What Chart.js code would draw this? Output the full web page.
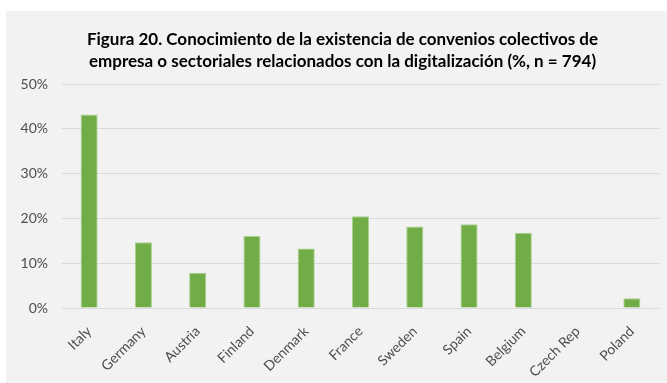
<!DOCTYPE html>
<html>
<head>
<meta charset="utf-8">
<script src="https://cdn.jsdelivr.net/npm/chart.js@4"></script>
<style>
  html, body { margin: 0; padding: 0; background: #fff; }
  #panel { position: absolute; left: 6px; top: 11px; width: 661px; height: 372px; background: #f2f2f2; }
</style>
</head>
<body>
<div id="panel"><canvas id="chart" width="661" height="372"></canvas></div>
<script>
  // Países y porcentaje que conoce convenios ligados a la digitalización
  const paises = ['Italy', 'Germany', 'Austria', 'Finland', 'Denmark', 'France', 'Sweden', 'Spain', 'Belgium', 'Czech Rep', 'Poland'];
  const porcentajes = [43.2, 14.7, 7.9, 16.1, 13.3, 20.5, 18.2, 18.7, 16.8, 0, 2.2];
  const ticksY = [0, 10, 20, 30, 40, 50];

  const fuente = 'Lato, "Open Sans", sans-serif';

  // desplaza el título un poco a la derecha, centrado sobre el área de barras
  const moverTitulo = {
    id: 'moverTitulo',
    afterLayout(chart) {
      const t = chart.titleBlock;
      if (t) { t.left += 10; t.right += 10; }
    }
  };

  new Chart(document.getElementById('chart'), {
    type: 'bar',
    data: {
      labels: paises,
      datasets: [{
        data: porcentajes,
        backgroundColor: '#70ad47',
        borderColor: '#a9d18e',
        borderWidth: 1,
        categoryPercentage: 1,
        barPercentage: 0.315
      }]
    },
    options: {
      responsive: false,
      animation: false,
      layout: { padding: { left: 0, right: 8, top: 0, bottom: 0 } },
      plugins: {
        legend: { display: false },
        tooltip: { enabled: false },
        title: {
          display: true,
          text: ['Figura 20. Conocimiento de la existencia de convenios colectivos de',
                 'empresa o sectoriales relacionados con la digitalización (%, n = 794)'],
          color: '#000',
          font: { family: fuente, size: 17, weight: 'bold', lineHeight: 1.27 },
          padding: { top: 18, bottom: 12 }
        }
      },
      scales: {
        x: {
          grid: { display: false },
          border: { display: false },
          ticks: {
            color: '#4d4d4d',
            font: { family: fuente, size: 14 },
            minRotation: 45,
            maxRotation: 45,
            padding: 7
          },
          afterFit: s => { s.height = 75; }
        },
        y: {
          min: 0,
          max: 50,
          afterBuildTicks: s => { s.ticks = ticksY.map(v => ({ value: v })); },
          grid: { color: '#d9d9d9', lineWidth: 1, drawTicks: false },
          border: { display: false },
          ticks: {
            color: '#4d4d4d',
            font: { family: fuente, size: 14 },
            padding: 14,
            callback: v => v + '%'
          },
          afterFit: s => { s.width = 56; }
        }
      }
    },
    plugins: [moverTitulo]
  });
</script>
</body>
</html>
